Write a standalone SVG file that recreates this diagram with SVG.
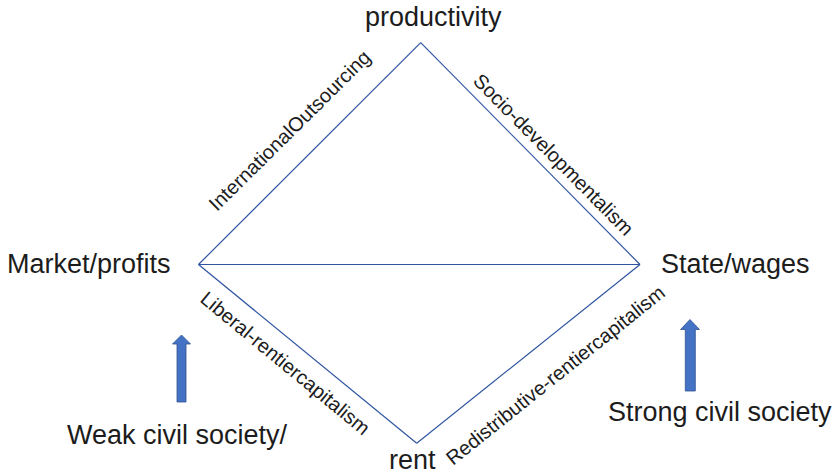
<svg xmlns="http://www.w3.org/2000/svg" width="834" height="475" viewBox="0 0 834 475">
  <style>
    .node { font-family: "Liberation Sans", Arial, sans-serif; font-size: 27px; fill: #1c1c1c; }
    .edge { stroke: #2f55a0; stroke-width: 1.2; fill: none; }
    .elabel { font-family: "Liberation Sans", Arial, sans-serif; font-size: 20px; fill: #1c1c1c; }
    .uparrow { fill: #4472c4; stroke: #2f528f; stroke-width: 0.8; }
  </style>
  <rect width="834" height="475" fill="#ffffff"/>

  <!-- corner labels -->
  <g id="productivity"><text class="node" x="365" y="26">productivity</text></g>
  <g id="market"><text class="node" x="7" y="273">Market/profits</text></g>
  <g id="state"><text class="node" x="661" y="273">State/wages</text></g>
  <g id="rent"><text class="node" x="389" y="469">rent</text></g>
  <g id="weak"><text class="node" x="67" y="444">Weak civil society/</text></g>
  <g id="strong"><text class="node" x="608" y="421">Strong civil society</text></g>

  <!-- upward arrows -->
  <g id="arrow-weak"><path class="uparrow" d="M181.5,335 L190.5,344 L186,344 L186,402 L177,402 L177,344 L172.5,344 Z"/></g>
  <g id="arrow-strong"><path class="uparrow" d="M690,319.5 L699.5,329.5 L695.3,329.5 L695.3,391 L685.3,391 L685.3,329.5 L680.5,329.5 Z"/></g>

  <!-- diamond edges and their labels -->
  <g id="connectors">
    <line class="edge" x1="198.5" y1="264.5" x2="420.7" y2="42.7"/>
    <line class="edge" x1="420.7" y1="42.7" x2="640" y2="264.5"/>
    <line class="edge" x1="198.5" y1="264.5" x2="640" y2="264.5"/>
    <line class="edge" x1="198.5" y1="264.5" x2="416.7" y2="443.3"/>
    <line class="edge" x1="416.7" y1="443.3" x2="640" y2="264.5"/>

    <text class="elabel" transform="translate(217,212) rotate(-44.7)">InternationalOutsourcing</text>
    <text class="elabel" transform="translate(472,82) rotate(45.3)">Socio-developmentalism</text>
    <text class="elabel" transform="translate(199,301) rotate(39.5)">Liberal-rentiercapitalism</text>
    <text class="elabel" transform="translate(453,466) rotate(-38.7)">Redistributive-rentiercapitalism</text>
  </g>
</svg>
